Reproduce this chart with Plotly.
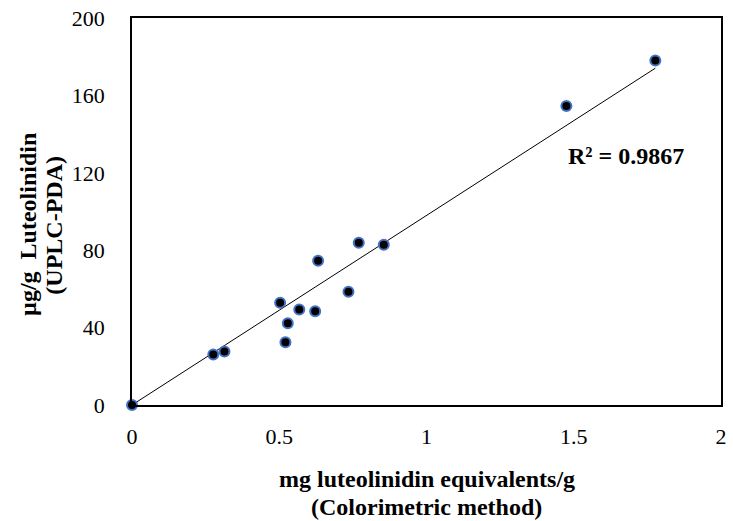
import numpy as np
import plotly.graph_objects as go

# Data
colorimetric = [0.0, 0.276, 0.314, 0.503, 0.529, 0.521, 0.568, 0.622, 0.632, 0.735, 0.770, 0.855, 1.475, 1.777]
uplc = [0.0, 26.1, 27.6, 52.9, 42.3, 32.4, 49.3, 48.5, 74.6, 58.5, 83.8, 82.8, 154.5, 178.0]
x_ticks = [0, 0.5, 1, 1.5, 2]
x_tick_labels = ["0", "0.5", "1", "1.5", "2"]
y_ticks = [0, 40, 80, 120, 160, 200]
y_tick_labels = ["0", "40", "80", "120", "160", "200"]
r2_label = "R² = 0.9867"
x_title = ["mg luteolinidin equivalents/g", "(Colorimetric method)"]
y_title = ["µg/g  Luteolinidin", "(UPLC-PDA)"]

xa = np.array(colorimetric)
ya = np.array(uplc)
slope = float((xa * ya).sum() / (xa * xa).sum())  # linear trendline through origin
trend_x = [0.0, float(xa.max())]
trend_y = [slope * v for v in trend_x]

FONT = "Liberation Serif, Times New Roman, serif"
L, R, T, B = 132, 6, 14, 116
PW, PH = 733 - L - R, 521 - T - B


def px(xp):
    return (xp - L) / PW


def py(yp):
    return (521 - B - yp) / PH


fig = go.Figure()
fig.add_trace(go.Scatter(x=trend_x, y=trend_y, mode="lines",
                         line=dict(color="black", width=1), hoverinfo="skip",
                         showlegend=False, cliponaxis=False))
fig.add_trace(go.Scatter(x=colorimetric, y=uplc, mode="markers",
                         marker=dict(color="black", size=10,
                                     line=dict(color="#4472C4", width=2)),
                         showlegend=False, cliponaxis=False))

ann = [
    dict(text="<b>" + x_title[0] + "</b>", x=px(430), y=py(480), textangle=0),
    dict(text="<b>" + x_title[1] + "</b>", x=px(430), y=py(508), textangle=0),
    dict(text="<b>" + y_title[0] + "</b>", x=px(27), y=py(223), textangle=-90),
    dict(text="<b>" + y_title[1] + "</b>", x=px(53), y=py(223), textangle=-90),
]
annotations = []
for a in ann:
    a.update(xref="paper", yref="paper", xanchor="center", yanchor="middle",
             showarrow=False, font=dict(family=FONT, size=24, color="black"))
    annotations.append(a)
annotations.append(dict(text="<b>" + r2_label + "</b>", xref="paper", yref="paper",
                        x=px(631), y=py(153), xanchor="center", yanchor="middle",
                        showarrow=False, font=dict(family=FONT, size=24, color="black")))

fig.update_layout(
    width=733, height=521,
    margin=dict(l=L, r=R, t=T, b=B),
    plot_bgcolor="white", paper_bgcolor="white",
    font=dict(family=FONT, size=22, color="black"),
    xaxis=dict(range=[0, 2], tickvals=x_ticks, ticktext=x_tick_labels,
               showgrid=False, zeroline=False, showline=True, mirror=True,
               linecolor="black", linewidth=1.5, ticks="",
               ticklabelstandoff=11, tickfont=dict(family=FONT, size=22)),
    yaxis=dict(range=[0, 200], tickvals=y_ticks, ticktext=y_tick_labels,
               showgrid=False, zeroline=False, showline=True, mirror=True,
               linecolor="black", linewidth=1.5, ticks="",
               ticklabelstandoff=21, tickfont=dict(family=FONT, size=22)),
    annotations=annotations,
)

fig.write_html("out.html")
